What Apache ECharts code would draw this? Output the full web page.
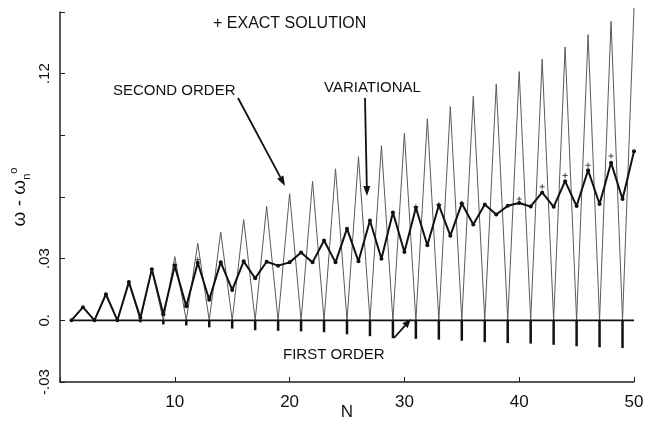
<!DOCTYPE html>
<html>
<head>
<meta charset="utf-8">
<script src="https://cdn.jsdelivr.net/npm/echarts@6/dist/echarts.min.js"></script>
<style>html,body{margin:0;padding:0;background:#fff}#c{width:649px;height:421px}</style>
</head>
<body>
<div id="c"></div>
<script>
// ---- data ----
const N = [1,2,3,4,5,6,7,8,9,10,11,12,13,14,15,16,17,18,19,20,21,22,23,24,25,
           26,27,28,29,30,31,32,33,34,35,36,37,38,39,40,41,42,43,44,45,46,47,48,49,50];
const secondOrder = [0,0.0064,0,0.0127,0,0.0186,0,0.0248,0,0.031,
                     0,0.0375,0,0.043,0,0.049,0,0.0555,0,0.0616,
                     0,0.0677,0,0.0737,0,0.0796,0,0.085,0,0.091,
                     0,0.098,0,0.104,0,0.109,0,0.115,0,0.121,
                     0,0.127,0,0.133,0,0.139,0,0.1455,0,0.152];
const variational = [0,0.0064,0,0.0127,0,0.0186,0.0012,0.0248,0.003,0.0265,
                     0.0068,0.028,0.0100,0.0283,0.0148,0.0287,0.0205,0.0285,0.0266,0.0282,
                     0.033,0.0282,0.0388,0.0282,0.0446,0.0287,0.0486,0.030,0.0525,0.0332,
                     0.0548,0.0365,0.056,0.0412,0.0568,0.0466,0.0563,0.0515,0.0557,0.0571,
                     0.0554,0.0622,0.0552,0.0677,0.0556,0.073,0.0566,0.0767,0.059,0.0822];
const firstOrder = [0,0,0,0,-0.0005,0,-0.001,0,-0.002,0,
                    -0.0025,0,-0.0034,0,-0.004,0,-0.0048,0,-0.0051,0,
                    -0.0054,0,-0.0058,0,-0.0068,0,-0.0077,0,-0.0087,0,
                    -0.009,0,-0.0094,0,-0.0099,0,-0.0106,0,-0.0111,0,
                    -0.0113,0,-0.0119,0,-0.0126,0,-0.0131,0,-0.0135,0];
const exactN = [10,11,12,13,31,33,35,40,42,44,46,48];
const exactV = [0.027,0.0075,0.0295,0.011,0.0552,0.0563,0.057,0.059,0.065,0.0705,0.0755,0.08];
const yTicks = [-0.03,0,0.03,0.06,0.09,0.12,0.15];
const yTickLabels = ['-.03','0.','.03','','','.12',''];
const xTicks = [0,10,20,30,40,50];
const xTickLabels = ['','10','20','30','40','50'];

// ---- chart ----
const FONT = 'Liberation Sans';
const chart = echarts.init(document.getElementById('c'), null, {renderer:'canvas'});
const pair = (xs, ys) => xs.map((x,i)=>[x, ys[i]]);

function arrow(x1,y1,x2,y2,len,hw){
  const dx=x2-x1, dy=y2-y1, L=Math.hypot(dx,dy), ux=dx/L, uy=dy/L;
  const bx=x2-ux*len, by=y2-uy*len;
  return [
    {type:'line', shape:{x1:x1,y1:y1,x2:bx,y2:by}, style:{stroke:'#111',lineWidth:1.8}, z:10},
    {type:'polygon', shape:{points:[[x2,y2],[bx-uy*hw,by+ux*hw],[bx+uy*hw,by-ux*hw]]}, style:{fill:'#111'}, z:10}
  ];
}
const plusPath = 'path://M4,0L6,0L6,4L10,4L10,6L6,6L6,10L4,10L4,6L0,6L0,4L4,4Z';

const txt = (x,y,s,size) => ({type:'text', left:x, top:y, z:10,
  style:{text:s, font:'normal '+size+'px "'+FONT+'"', fill:'#111', textVerticalAlign:'middle'}});

chart.setOption({
  animation:false,
  backgroundColor:'#fff',
  grid:{left:60, right:15, top:12, bottom:39, containLabel:false, outerBoundsMode:'none'},
  xAxis:{
    type:'value', min:0, max:50, interval:10,
    axisLine:{onZero:false, lineStyle:{color:'#222', width:1.5}},
    axisTick:{inside:true, length:5, lineStyle:{color:'#222'}},
    splitLine:{show:false},
    axisLabel:{margin:12, color:'#111', fontFamily:FONT, fontSize:17,
      formatter:v=>{const i=xTicks.indexOf(Math.round(v)); return i>=0?xTickLabels[i]:'';}},
    name:'N', nameLocation:'middle', nameGap:22, nameMoveOverlap:false,
    nameTextStyle:{color:'#111', fontFamily:FONT, fontSize:17}
  },
  yAxis:{
    type:'value', min:-0.03, max:0.15, interval:0.03,
    axisLine:{show:true, onZero:false, lineStyle:{color:'#222', width:1.5}},
    axisTick:{show:true, inside:true, length:5, lineStyle:{color:'#222'}},
    splitLine:{show:false},
    axisLabel:{rotate:90, margin:8, color:'#111', fontFamily:FONT, fontSize:15,
      formatter:v=>{const i=yTicks.findIndex(t=>Math.abs(t-v)<1e-6); return i>=0?yTickLabels[i]:'';}},
    name:'{a|ω - ω}{b|n}{c|o}', nameLocation:'middle', nameRotate:90, nameGap:28, nameMoveOverlap:false,
    nameTextStyle:{color:'#111', fontFamily:FONT,
      rich:{a:{fontSize:19, fontFamily:FONT, color:'#111', lineHeight:24},
            b:{fontSize:11, fontFamily:FONT, color:'#111', verticalAlign:'bottom', lineHeight:24},
            c:{fontSize:11, fontFamily:FONT, color:'#111', verticalAlign:'top', lineHeight:24}}}
  },
  series:[
    {name:'Second order', type:'line', data:pair(N, secondOrder), showSymbol:false, symbol:'none',
     clip:false, lineStyle:{color:'#5a5a5a', width:1}, z:2},
    {name:'First order', type:'line', data:pair(N, firstOrder.map(()=>0)), symbol:'none',
     lineStyle:{color:'#111', width:1.8}, z:3},
    {name:'First order dips', type:'bar', data:pair(N, firstOrder), barWidth:2.5,
     itemStyle:{color:'#111'}, z:3},
    {name:'Variational', type:'line', data:pair(N, variational), symbol:'circle', symbolSize:4,
     lineStyle:{color:'#111', width:2}, itemStyle:{color:'#111'}, z:4},
    {name:'Exact', type:'scatter', data:pair(exactN, exactV), symbol:plusPath, symbolSize:5,
     itemStyle:{color:'#111'}, z:5}
  ],
  graphic:[
    txt(213,16,'+ EXACT SOLUTION',16),
    txt(113,83,'SECOND ORDER',15),
    txt(324,80,'VARIATIONAL',15),
    txt(283,347,'FIRST ORDER',15),
    ...arrow(238,98,285,186,10,3.5),
    ...arrow(365,98,367,196,10,3.5),
    ...arrow(394,338,411,319,9,3.5)
  ]
});
</script>
</body>
</html>
